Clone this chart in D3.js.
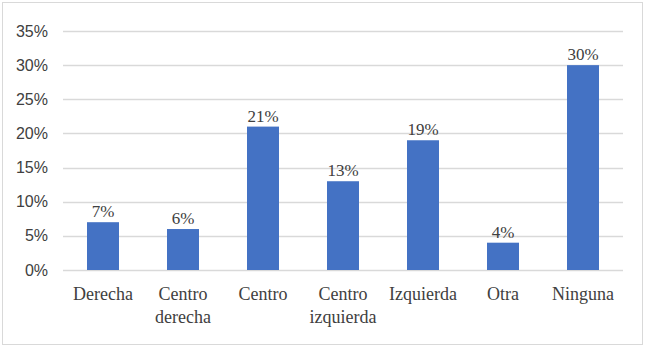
<!DOCTYPE html>
<html><head><meta charset="utf-8">
<script src="https://cdn.jsdelivr.net/npm/d3@7"></script>
<style>html,body{margin:0;padding:0;background:#fff;}
.serif{font-family:"Liberation Serif","DejaVu Serif","Times New Roman",Times,serif;}
</style>
</head><body>
<svg id="c" width="650" height="355"></svg>
<script>
const categories = [["Derecha"],["Centro","derecha"],["Centro"],["Centro","izquierda"],["Izquierda"],["Otra"],["Ninguna"]];
const values = [7, 6, 21, 13, 19, 4, 30];
const yTicks = [0, 5, 10, 15, 20, 25, 30, 35];

const svg = d3.select("#c");
svg.append("rect").attr("x",2.5).attr("y",2.5).attr("width",640).attr("height",342)
  .attr("fill","#fff").attr("stroke","#d9d9d9").attr("stroke-width",1);

const x0 = 63, x1 = 623, yTop = 31, yBot = 270;
const x = d3.scaleBand().domain(categories.map((d,i)=>i)).range([x0,x1]).paddingInner(0.6).paddingOuter(0.3);
const y = d3.scaleLinear().domain([0,35]).range([yBot,yTop]);

const g = svg.append("g");
g.selectAll("line.grid").data(yTicks).join("line").attr("class","grid")
  .attr("x1",x0).attr("x2",x1).attr("y1",d=>Math.round(y(d))+0.5).attr("y2",d=>Math.round(y(d))+0.5)
  .attr("stroke","#d9d9d9").attr("stroke-width",1.3);

g.selectAll("text.yt").data(yTicks).join("text").attr("class","yt")
  .attr("x",48).attr("y",d=>y(d)+5.5).attr("text-anchor","end")
  .attr("font-family","Liberation Sans Narrow, Liberation Sans, sans-serif").attr("font-size",16)
  .attr("fill","#404040").text(d=>d+"%");

g.selectAll("rect.bar").data(values).join("rect").attr("class","bar")
  .attr("x",(d,i)=>x(i)).attr("width",x.bandwidth())
  .attr("y",d=>y(d)).attr("height",d=>y(0)-y(d)).attr("fill","#4472c4");

g.selectAll("text.lbl").data(values).join("text").attr("class","lbl serif")
  .attr("x",(d,i)=>x(i)+x.bandwidth()/2).attr("y",d=>y(d)-5).attr("text-anchor","middle")
  .attr("font-size",17).attr("fill","#404040").text(d=>d+"%");

const cat = g.selectAll("text.cat").data(categories).join("text").attr("class","cat serif")
  .attr("x",(d,i)=>x(i)+x.bandwidth()/2).attr("y",300).attr("text-anchor","middle")
  .attr("font-size",18).attr("fill","#404040");
cat.each(function(d,i){
  const t = d3.select(this);
  d.forEach((s,j)=>t.append("tspan").attr("x",x(i)+x.bandwidth()/2).attr("dy",j?23:0).text(s));
});
</script>
</body></html>
